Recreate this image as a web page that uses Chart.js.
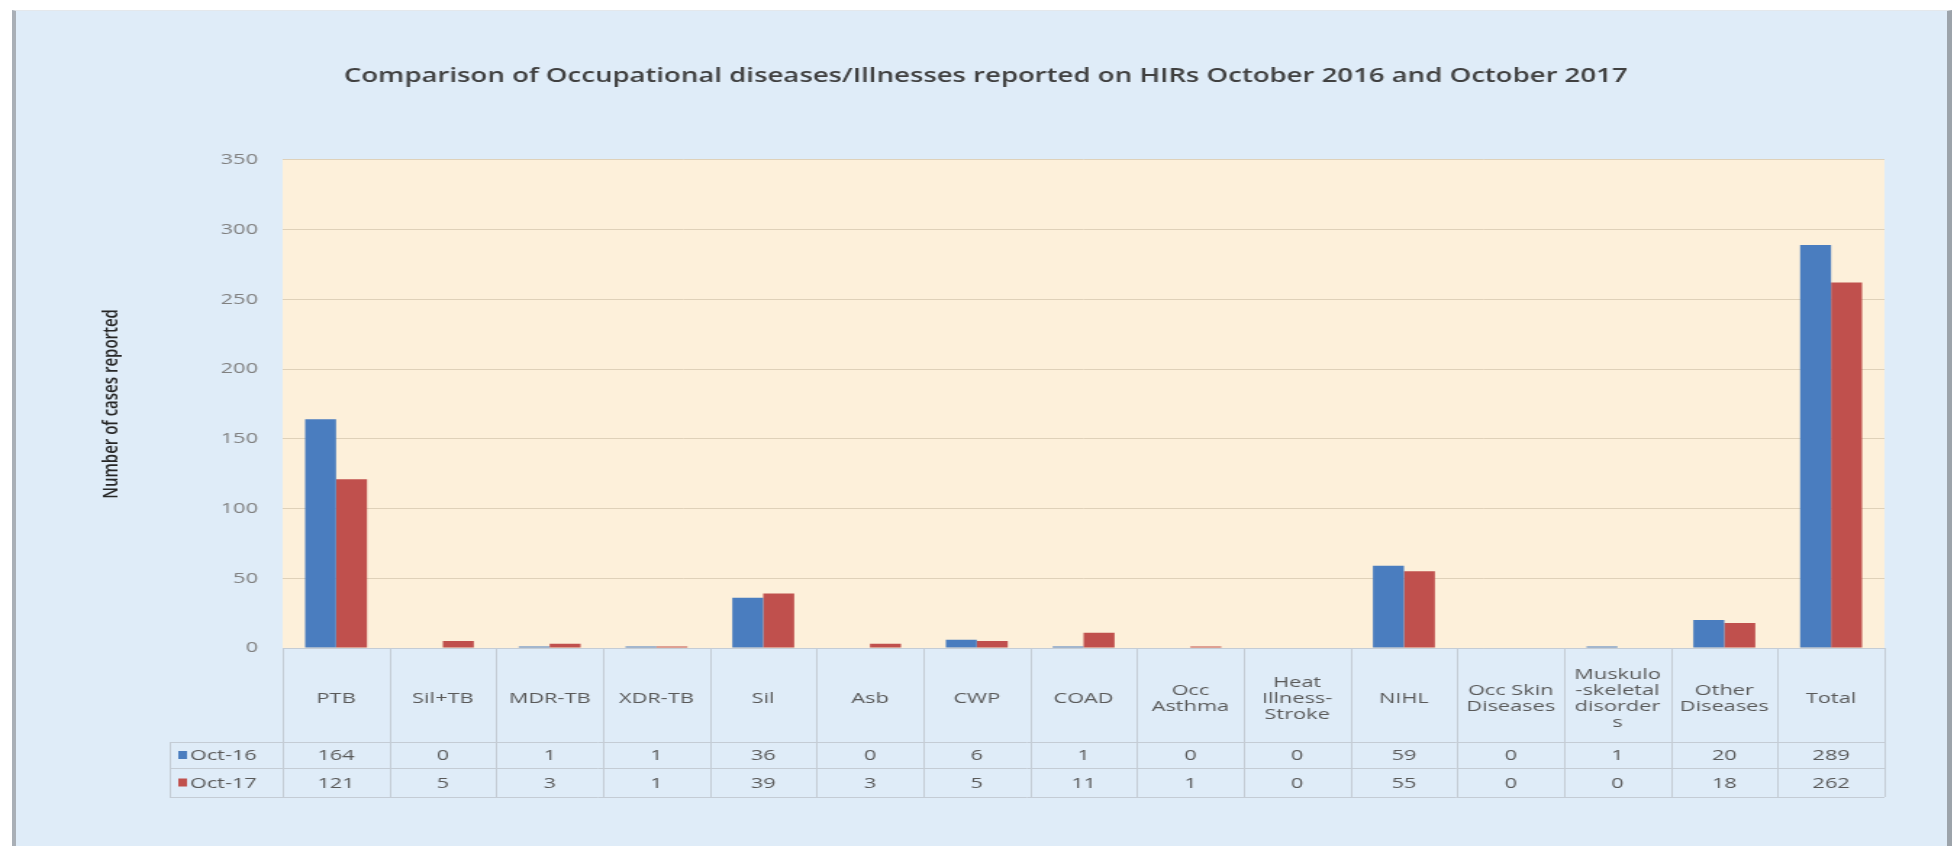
<!DOCTYPE html>
<html>
<head>
<meta charset="utf-8">
<title>Occupational diseases reported on HIRs</title>
<script src="https://cdn.jsdelivr.net/npm/chart.js@4.4.1/dist/chart.umd.min.js"></script>
<style>
  html, body { margin: 0; padding: 0; background: #ffffff; }
  #wrap { position: relative; width: 1957px; height: 846px; overflow: hidden; }
  #panel {
    position: absolute; left: 12px; top: 10px; width: 1931px; height: 840px;
    background: #dfecf8;
    border-left: 4px solid #a9afb6; border-right: 5px solid #9ca3aa; border-top: 1px solid #e4e8ec;
  }
  /* the original picture is stretched sideways, so the canvas is too */
  #chart { position: absolute; left: 0; top: 0; transform: scaleX(1.4496); transform-origin: 0 0; }
</style>
</head>
<body>
<div id="wrap">
  <div id="panel"></div>
  <canvas id="chart" width="1350" height="846"></canvas>
</div>
<script>
const chartTitle = 'Comparison of Occupational diseases/Illnesses reported on HIRs October 2016 and October 2017';
const yTitle = 'Number of cases reported';

const categories = [
    'PTB', 'Sil+TB', 'MDR-TB', 'XDR-TB', 'Sil', 'Asb', 'CWP', 'COAD',
    ['Occ', 'Asthma'], ['Heat', 'Illness-', 'Stroke'], 'NIHL', ['Occ Skin', 'Diseases'],
    ['Muskulo', '-skeletal', 'disorder', 's'], ['Other', 'Diseases'], 'Total'
];
const seriesNames = ['Oct-16', 'Oct-17'];
const oct16 = [164, 0, 1, 1, 36, 0, 6, 1, 0, 0, 59, 0, 1, 20, 289];
const oct17 = [121, 5, 3, 1, 39, 3, 5, 11, 1, 0, 55, 0, 0, 18, 262];
const yMin = 0;
const yMax = 350;
const yStep = 50;

const colors = ['#4a7dbf', '#c0504d'];
const tableFont = '15px "Open Sans"';
const textColor = '#595959';

// peach fill behind the bars
const plotBackground = {
    id: 'plotBackground',
    beforeDraw(chart) {
        const { ctx, chartArea } = chart;
        ctx.save();
        ctx.fillStyle = '#fdf0da';
        ctx.fillRect(chartArea.left, chartArea.top, chartArea.right - chartArea.left, chartArea.bottom - chartArea.top);
        ctx.restore();
    }
};

// data table under the axis, like the Excel one
const dataTable = {
    id: 'dataTable',
    afterDraw(chart) {
        const { ctx, chartArea, scales } = chart;
        const x = scales.x;
        const n = categories.length;
        const catW = (chartArea.right - chartArea.left) / n;
        const top = chartArea.bottom;
        const row1 = top + 94;
        const row2 = row1 + 26;
        const bottom = row2 + 29;
        const legendLeft = 117;

        ctx.save();
        ctx.strokeStyle = '#c4ccd5';
        ctx.lineWidth = 1;
        ctx.beginPath();
        ctx.moveTo(chartArea.left, top + 0.5);
        ctx.lineTo(chartArea.right, top + 0.5);
        [row1, row2, bottom].forEach(yy => {
            ctx.moveTo(legendLeft, yy + 0.5);
            ctx.lineTo(chartArea.right, yy + 0.5);
        });
        for (let i = 0; i <= n; i++) {
            const xx = Math.round(chartArea.left + i * catW) + 0.5;
            ctx.moveTo(xx, top);
            ctx.lineTo(xx, bottom);
        }
        ctx.moveTo(legendLeft + 0.5, row1);
        ctx.lineTo(legendLeft + 0.5, bottom);
        ctx.stroke();

        ctx.font = tableFont;
        ctx.fillStyle = textColor;
        ctx.textAlign = 'center';
        ctx.textBaseline = 'middle';
        const lh = 16;
        categories.forEach((c, i) => {
            const cx = x.getPixelForValue(i);
            const lines = [].concat(c);
            lines.forEach((ln, j) => {
                ctx.fillText(ln, cx, top + 51 + (j - (lines.length - 1) / 2) * lh);
            });
            ctx.fillText(String(oct16[i]), cx, (row1 + row2) / 2 + 1);
            ctx.fillText(String(oct17[i]), cx, (row2 + bottom) / 2 + 1);
        });

        // legend keys
        ctx.textAlign = 'left';
        [[row1, row2], [row2, bottom]].forEach(([a, b], k) => {
            const cy = (a + b) / 2;
            ctx.fillStyle = colors[k];
            ctx.fillRect(legendLeft + 6, cy - 4, 6, 8);
            ctx.fillStyle = textColor;
            ctx.fillText(seriesNames[k], legendLeft + 14, cy + 1);
        });
        ctx.restore();
    }
};

const ctx = document.getElementById('chart').getContext('2d');
new Chart(ctx, {
    type: 'bar',
    data: {
        labels: categories,
        datasets: [
            { label: seriesNames[0], data: oct16, backgroundColor: colors[0] },
            { label: seriesNames[1], data: oct17, backgroundColor: colors[1] }
        ]
    },
    options: {
        responsive: false,
        animation: false,
        categoryPercentage: 0.58,
        barPercentage: 1.0,
        layout: { padding: { left: 60, right: 50, top: 0, bottom: 49 } },
        plugins: {
            legend: { display: false },
            tooltip: { enabled: false },
            title: {
                display: true,
                text: chartTitle,
                color: '#404040',
                font: { family: 'Open Sans', size: 19, weight: '600' },
                padding: { top: 65, bottom: 72 }
            }
        },
        scales: {
            x: {
                ticks: { display: false },
                grid: { display: false },
                border: { display: false },
                afterFit: (scale) => { scale.height = 149; }
            },
            y: {
                min: yMin,
                max: yMax,
                ticks: {
                    stepSize: yStep,
                    color: '#808080',
                    padding: 17,
                    font: { family: 'Open Sans', size: 15 }
                },
                grid: { color: '#dfd1b9', drawTicks: false },
                border: { display: false },
                title: {
                    display: true,
                    text: yTitle,
                    color: '#262626',
                    font: { family: 'Open Sans', size: 15, weight: '600' },
                    padding: { top: 8, bottom: 0 }
                },
                afterFit: (scale) => { scale.width = 135; }
            }
        }
    },
    plugins: [plotBackground, dataTable]
});
</script>
</body>
</html>
